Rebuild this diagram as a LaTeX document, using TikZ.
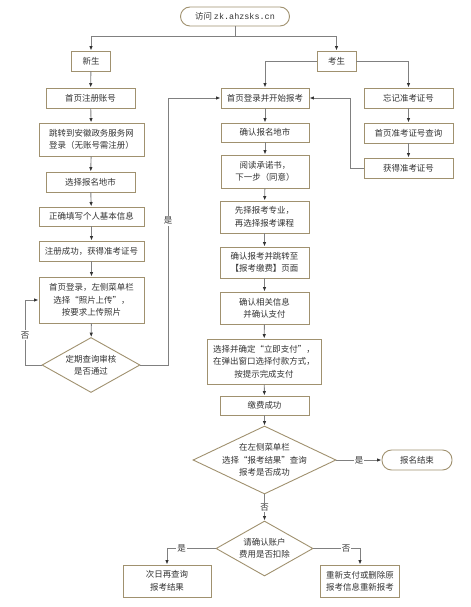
\documentclass[tikz,border=0pt]{standalone}
\usepackage{fontspec}
\setmainfont{Noto Sans CJK SC}
\newfontfamily\monof{Liberation Mono}
\usetikzlibrary{arrows.meta,shapes.geometric}
\definecolor{boxc}{HTML}{A0916F}
\definecolor{linec}{HTML}{808080}
\definecolor{txtc}{HTML}{333333}
\tikzset{
  every node/.style={font=\fontsize{8.5}{12.5}\selectfont, text=txtc},
  bx/.style={draw=boxc, line width=0.9pt, fill=white, align=center, inner sep=0pt},
  term/.style={bx, rounded corners=9.5bp},
  dia/.style={draw=boxc, line width=0.9pt, fill=white, diamond, inner sep=0pt},
  ln/.style={draw=linec, line width=0.9pt},
  arr/.style={ln, -{Latex[length=4.5bp,width=3.5bp,color=txtc]}},
  lbl/.style={fill=white, inner sep=1pt}
}
\begin{document}
\begin{tikzpicture}[x=1bp,y=-1bp]
\useasboundingbox[fill=white] (0,0) rectangle (471,607);
% start
\node[term, minimum width=109bp, minimum height=19bp] (start) at (235,16.5) {访问 {\monof zk.ahzsks.cn}};
\coordinate (j1) at (235,36);
\node[bx, minimum width=39bp, minimum height=20bp] (xs) at (91,61) {新生};
\node[bx, minimum width=39bp, minimum height=20bp] (ks) at (336.5,61) {考生};
% left column
\node[bx, minimum width=89bp, minimum height=20bp] (n1) at (90.5,98) {首页注册账号};
\node[bx, minimum width=105bp, minimum height=33bp] (n2) at (91.5,139.5) {跳转到安徽政务服务网\\登录（无账号需注册）};
\node[bx, minimum width=89bp, minimum height=20bp] (n3) at (90.5,182) {选择报名地市};
\node[bx, minimum width=105bp, minimum height=19bp] (n4) at (91.5,216.5) {正确填写个人基本信息};
\node[bx, minimum width=105bp, minimum height=20bp] (n5) at (91.5,251) {注册成功，获得准考证号};
\node[bx, minimum width=105bp, minimum height=46bp] (n6) at (91.5,300) {首页登录，左侧菜单栏\\选择“照片上传”，\\按要求上传照片};
\node[dia, minimum width=98bp, minimum height=55bp, label={[align=center]center:定期查询审核\\是否通过}] (d1) at (91,365) {};
\coordinate (lA) at (25,365);
\coordinate (lB) at (168,365);
% middle column
\node[bx, minimum width=88bp, minimum height=20bp] (r1) at (265,98) {首页登录并开始报考};
\node[bx, minimum width=88bp, minimum height=19bp] (r2) at (265,132.5) {确认报名地市};
\node[bx, minimum width=88bp, minimum height=33bp] (r3) at (265,171.5) {阅读承诺书，\\下一步（同意）};
\node[bx, minimum width=89bp, minimum height=32bp] (r4) at (264.5,217) {先择报考专业，\\再选择报考课程};
\node[bx, minimum width=89bp, minimum height=31bp] (r5) at (264.5,262.5) {确认报考并跳转至\\【报考缴费】页面};
\node[bx, minimum width=89bp, minimum height=32bp] (r6) at (264.5,308) {确认相关信息\\并确认支付};
\node[bx, minimum width=114bp, minimum height=45bp] (r7) at (264,361.5) {选择并确定“立即支付”，\\在弹出窗口选择付款方式，\\按提示完成支付};
\node[bx, minimum width=89bp, minimum height=19bp] (r8) at (264.5,405.5) {缴费成功};
\node[dia, minimum width=143bp, minimum height=68bp, label={[align=center]center:在左侧菜单栏\\选择“报考结果”查询\\报考是否成功}] (d2) at (264.5,460) {};
\node[term, minimum width=70bp, minimum height=20bp] (end) at (417,460) {报名结束};
\node[dia, minimum width=97bp, minimum height=55bp, label={[align=center]center:请确认账户\\费用是否扣除}] (d3) at (264.5,548.5) {};
\node[bx, minimum width=88bp, minimum height=32bp] (c1) at (167,581) {次日再查询\\报考结果};
\node[bx, minimum width=79bp, minimum height=32bp] (c2) at (360,581) {重新支付或删除原\\报考信息重新报考};
% right column
\node[bx, minimum width=89bp, minimum height=20bp] (f1) at (408.5,98) {忘记准考证号};
\node[bx, minimum width=89bp, minimum height=20bp] (f2) at (408.5,133) {首页准考证号查询};
\node[bx, minimum width=89bp, minimum height=20bp] (f3) at (408.5,168) {获得准考证号};
\coordinate (fA) at (350,168);
% connectors
\draw[ln] (start) -- (j1);
\draw[arr] (j1) -| (xs);
\draw[arr] (j1) -| (ks);
\draw[arr] (xs) -- (n1);
\draw[arr] (n1) -- (n2);
\draw[arr] (n2) -- (n3);
\draw[arr] (n3) -- (n4);
\draw[arr] (n4) -- (n5);
\draw[arr] (n5) -- (n6);
\draw[arr] (n6) -- (d1);
\draw[arr] (d1.west) -- (lA) |- (n6.west) node[lbl, pos=0.23] {否};
\draw[arr] (d1.east) -- (lB) |- (r1.west) node[lbl, pos=0.27] {是};
\draw[arr] (ks.west) -| (r1.north);
\draw[arr] (ks.east) -| (f1.north);
\draw[arr] (f1) -- (f2);
\draw[arr] (f2) -- (f3);
\draw[arr] (f3.west) -- (fA) |- (r1.east);
\draw[arr] (r1) -- (r2);
\draw[arr] (r2) -- (r3);
\draw[arr] (r3) -- (r4);
\draw[arr] (r4) -- (r5);
\draw[arr] (r5) -- (r6);
\draw[arr] (r6) -- (r7);
\draw[arr] (r7) -- (r8);
\draw[arr] (r8) -- (d2.north);
\draw[arr] (d2.east) -- (end.west) node[lbl, midway] {是};
\draw[arr] (d2.south) -- (d3.north) node[lbl, pos=0.5] {否};
\draw[arr] (d3.west) -| (c1.north) node[lbl, pos=0.35] {是};
\draw[arr] (d3.east) -| (c2.north) node[lbl, pos=0.35] {否};
\end{tikzpicture}
\end{document}
